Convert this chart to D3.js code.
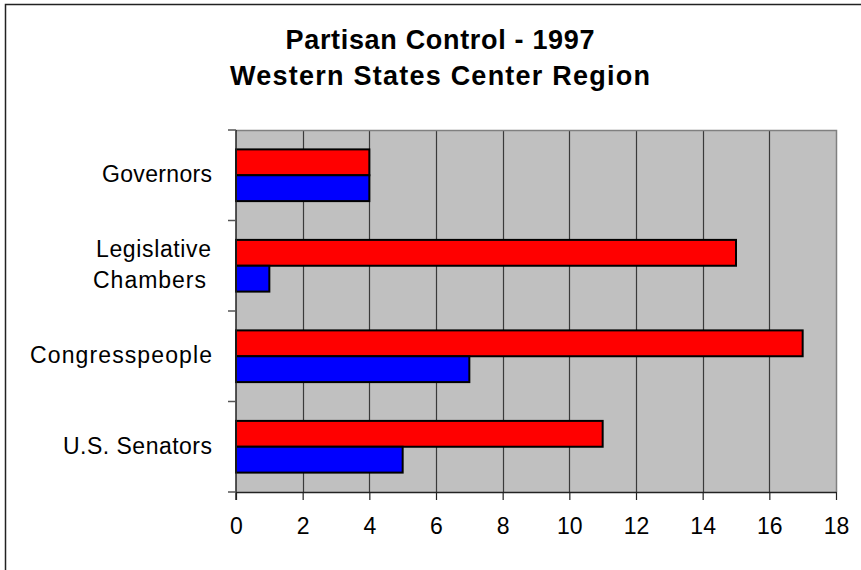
<!DOCTYPE html>
<html lang="en">
<head>
    <meta charset="UTF-8">
    <title>Partisan Control - 1997</title>
    <script src="https://d3js.org/d3.v7.min.js"></script>
    <style>
        body { margin: 0; background: #fff; }
        svg text { font-family: "Liberation Sans", Arial, sans-serif; fill: #000; }
    </style>
</head>
<body>
<svg id="chart" width="861" height="570"></svg>
<script>
// chart values
var categories = ["Governors", "Legislative Chambers", "Congresspeople", "U.S. Senators"];
var series = ["Republican", "Democrat"];
var republican = [4, 15, 17, 11];
var democrat = [4, 1, 7, 5];
var tickValues = [0, 2, 4, 6, 8, 10, 12, 14, 16, 18];
var titleLines = ["Partisan Control - 1997", "Western States Center Region"];
var colors = {Republican: "#ff0000", Democrat: "#0000ff"};

// label lines and the widths they are stretched to (old GDI-style spacing)
var labelLines = {
    "Governors": [["Governors", 110, 212]],
    "Legislative Chambers": [["Legislative", 115, 211], ["Chambers", 113, 206]],
    "Congresspeople": [["Congresspeople", 182, 212]],
    "U.S. Senators": [["U.S. Senators", 149, 212]]
};
var titleWidths = [309, 420];

var svg = d3.select("#chart");

// outer frame (right / bottom edges fall outside the picture)
svg.append("rect")
    .attr("x", 5.5).attr("y", 4.5)
    .attr("width", 900).attr("height", 600)
    .attr("fill", "#fff").attr("stroke", "#222").attr("stroke-width", 1.5);

var plot = {left: 236, right: 836, top: 130, bottom: 492};

var x = d3.scaleLinear().domain([0, 18]).range([plot.left, plot.right]);
var y = d3.scaleBand().domain(categories).range([plot.top, plot.bottom]).padding(0);
var yInner = d3.scaleBand().domain(series).range([0, y.bandwidth()])
    .paddingInner(0).paddingOuter(0.75);

// plot background
svg.append("rect")
    .attr("x", plot.left).attr("y", plot.top)
    .attr("width", plot.right - plot.left).attr("height", plot.bottom - plot.top)
    .attr("fill", "#c0c0c0");

// vertical gridlines
svg.append("g").selectAll("line")
    .data(tickValues.slice(1, -1))
    .enter().append("line")
    .attr("x1", function(d) { return Math.round(x(d)) + 0.5; })
    .attr("x2", function(d) { return Math.round(x(d)) + 0.5; })
    .attr("y1", plot.top).attr("y2", plot.bottom)
    .attr("stroke", "#3a3a3a").attr("stroke-width", 1.2);

// top and right border of plot area
svg.append("path")
    .attr("d", "M" + plot.left + "," + (plot.top + 0.5) + "H" + (plot.right + 0.5) + "V" + plot.bottom)
    .attr("fill", "none").attr("stroke", "#808080").attr("stroke-width", 1.5);

// bars
var rows = categories.map(function(c, i) {
    return {cat: c, values: [
        {s: "Republican", v: republican[i]},
        {s: "Democrat", v: democrat[i]}
    ]};
});

var groups = svg.append("g").selectAll("g")
    .data(rows)
    .enter().append("g")
    .attr("transform", function(d) { return "translate(0," + y(d.cat) + ")"; });

groups.selectAll("rect")
    .data(function(d) { return d.values; })
    .enter().append("rect")
    .attr("x", x(0))
    .attr("y", function(d) { return yInner(d.s); })
    .attr("width", function(d) { return x(d.v) - x(0); })
    .attr("height", yInner.bandwidth())
    .attr("fill", function(d) { return colors[d.s]; })
    .attr("stroke", "#000").attr("stroke-width", 2);

// x axis
var xAxis = svg.append("g")
    .attr("transform", "translate(0," + plot.bottom + ")")
    .call(d3.axisBottom(x).tickValues(tickValues).tickSize(8).tickPadding(18).tickSizeOuter(0));
xAxis.select(".domain").attr("stroke", "#222").attr("stroke-width", 1.5);
xAxis.selectAll(".tick line").attr("stroke", "#222").attr("stroke-width", 1.2);
xAxis.selectAll("text").attr("font-size", "23px")
    .attr("font-family", "Liberation Sans, Arial, sans-serif").attr("fill", "#000");

// y axis (ticks at band boundaries)
var yAxis = svg.append("g").attr("transform", "translate(" + plot.left + ",0)");
yAxis.append("line")
    .attr("x1", 0).attr("x2", 0).attr("y1", plot.top).attr("y2", plot.bottom + 8)
    .attr("stroke", "#222").attr("stroke-width", 1.5);
var bounds = categories.map(function(c) { return y(c); }).concat([plot.bottom]);
yAxis.selectAll(".yt")
    .data(bounds)
    .enter().append("line")
    .attr("class", "yt")
    .attr("x1", -8).attr("x2", 0)
    .attr("y1", function(d) { return d; }).attr("y2", function(d) { return d; })
    .attr("stroke", "#555").attr("stroke-width", 1.5);

// category labels
var labels = svg.append("g").selectAll("text")
    .data(categories)
    .enter().append("text")
    .attr("text-anchor", "end")
    .attr("font-size", "23px");

labels.each(function(c) {
    var t = d3.select(this);
    var mid = y(c) + y.bandwidth() / 2;
    var parts = labelLines[c];
    parts.forEach(function(p, i) {
        t.append("tspan")
            .attr("x", p[2])
            .attr("y", mid + 7 + (i - (parts.length - 1) / 2) * 31)
            .attr("textLength", p[1])
            .attr("lengthAdjust", "spacing")
            .text(p[0]);
    });
});

// title
svg.append("g").selectAll("text")
    .data(titleLines)
    .enter().append("text")
    .attr("x", 440)
    .attr("y", function(d, i) { return 49 + i * 36; })
    .attr("text-anchor", "middle")
    .attr("font-size", "27px")
    .attr("font-weight", "bold")
    .attr("textLength", function(d, i) { return titleWidths[i]; })
    .attr("lengthAdjust", "spacing")
    .text(function(d) { return d; });
</script>
</body>
</html>
